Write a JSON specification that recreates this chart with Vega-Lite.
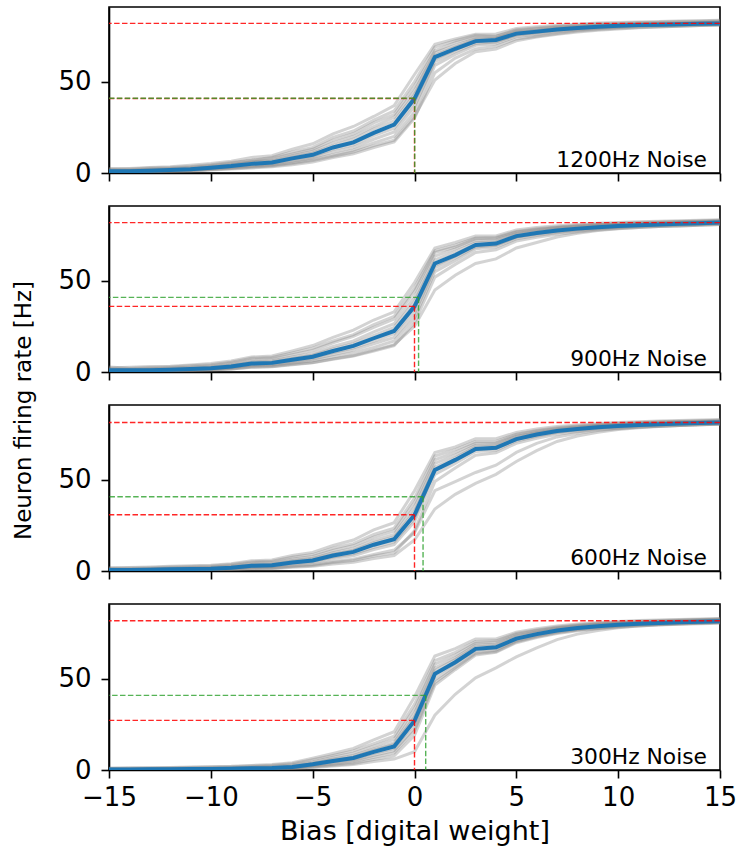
{
"$schema":"https://vega.github.io/schema/vega-lite/v6.json",
"padding":{"left":11,"top":6,"right":4,"bottom":4},
"background":"white",
"bounds":"flush",
"spacing":33,
"config":{"font":"DejaVu Sans","view":{"stroke":"black","strokeWidth":1.6},
"axis":{"grid":false,"domainColor":"black","domainWidth":1.6,"tickColor":"black","tickWidth":1.6,"tickSize":8,"labelColor":"black","labelFontSize":26,"labelFont":"DejaVu Sans","titleFont":"DejaVu Sans","titleColor":"black","titleFontSize":27,"titleFontWeight":"normal","labelFlush":false,"labelOverlap":false},
"axisY":{"labelPadding":10},"axisX":{"labelPadding":6}},
"datasets":{
"refs":[
{"p":1,"max":82.0,"half":41.0,"at0":40.8,"xh":0.01,"label":"1200Hz Noise"},
{"p":2,"max":81.9,"half":40.9,"at0":36.0,"xh":0.2,"label":"900Hz Noise"},
{"p":3,"max":81.4,"half":40.7,"at0":30.8,"xh":0.42,"label":"600Hz Noise"},
{"p":4,"max":81.8,"half":40.9,"at0":27.2,"xh":0.55,"label":"300Hz Noise"}],
"curves":[
{"p":1,"x":-15,"m":0.9,"a":2.5,"b":0.3,"c":1.2,"d":0.6,"e":1.8,"f":0.5,"g":1.0,"h":0.4,"i":2.0,"j":0.8},
{"p":1,"x":-14,"m":1.0,"a":2.2,"b":0.4,"c":1.4,"d":0.8,"e":1.6,"f":0.6,"g":1.1,"h":0.5,"i":2.5,"j":0.9},
{"p":1,"x":-13,"m":1.3,"a":2.8,"b":0.6,"c":1.6,"d":1.0,"e":2.2,"f":0.9,"g":1.5,"h":0.7,"i":3.0,"j":1.2},
{"p":1,"x":-12,"m":1.6,"a":3.0,"b":0.8,"c":2.0,"d":1.3,"e":2.4,"f":1.1,"g":1.8,"h":1.0,"i":3.4,"j":1.4},
{"p":1,"x":-11,"m":2.0,"a":3.6,"b":1.0,"c":2.6,"d":1.6,"e":3.0,"f":1.4,"g":2.2,"h":1.3,"i":4.2,"j":1.8},
{"p":1,"x":-10,"m":2.9,"a":4.5,"b":1.6,"c":3.5,"d":2.4,"e":4.0,"f":2.0,"g":3.2,"h":1.9,"i":5.2,"j":2.7},
{"p":1,"x":-9,"m":3.8,"a":5.8,"b":2.2,"c":4.6,"d":3.2,"e":5.2,"f":2.8,"g":4.2,"h":2.5,"i":6.5,"j":3.5},
{"p":1,"x":-8,"m":5.0,"a":7.0,"b":2.8,"c":6.2,"d":4.0,"e":6.8,"f":3.5,"g":5.6,"h":3.2,"i":8.5,"j":4.6},
{"p":1,"x":-7,"m":5.8,"a":8.5,"b":3.4,"c":6.8,"d":4.8,"e":8.0,"f":4.2,"g":6.4,"h":3.8,"i":9.5,"j":5.4},
{"p":1,"x":-6,"m":8.0,"a":11.5,"b":4.5,"c":9.6,"d":6.6,"e":10.5,"f":5.8,"g":8.8,"h":5.2,"i":13.0,"j":7.4},
{"p":1,"x":-5,"m":10.0,"a":14.0,"b":6.0,"c":12.0,"d":8.4,"e":13.0,"f":7.5,"g":11.0,"h":6.8,"i":16.0,"j":9.2},
{"p":1,"x":-4,"m":14.0,"a":19.5,"b":8.5,"c":16.5,"d":11.5,"e":18.0,"f":10.0,"g":15.0,"h":9.2,"i":21.5,"j":13.0},
{"p":1,"x":-3,"m":16.8,"a":23.0,"b":10.5,"c":20.0,"d":14.0,"e":21.5,"f":12.5,"g":18.5,"h":11.5,"i":25.5,"j":15.5},
{"p":1,"x":-2,"m":22.0,"a":29.0,"b":14.0,"c":25.5,"d":18.5,"e":27.5,"f":16.5,"g":24.0,"h":15.0,"i":31.0,"j":20.5},
{"p":1,"x":-1,"m":26.5,"a":34.0,"b":17.0,"c":30.5,"d":22.5,"e":32.0,"f":20.0,"g":28.5,"h":18.0,"i":37.0,"j":24.5},
{"p":1,"x":0,"m":40.8,"a":50.0,"b":30.0,"c":45.0,"d":36.5,"e":47.5,"f":33.5,"g":43.0,"h":31.0,"i":54.0,"j":39.0},
{"p":1,"x":1,"m":63.5,"a":69.0,"b":55.0,"c":66.0,"d":61.0,"e":67.0,"f":59.0,"g":64.5,"h":51.0,"i":70.5,"j":62.5},
{"p":1,"x":2,"m":68.1,"a":72.5,"b":63.0,"c":70.0,"d":66.5,"e":71.5,"f":65.0,"g":69.0,"h":60.0,"i":73.5,"j":67.5},
{"p":1,"x":3,"m":72.3,"a":75.5,"b":68.0,"c":73.8,"d":71.0,"e":74.5,"f":70.0,"g":73.0,"h":66.5,"i":76.0,"j":72.0},
{"p":1,"x":4,"m":72.9,"a":75.0,"b":69.5,"c":74.0,"d":71.8,"e":74.8,"f":70.8,"g":73.5,"h":68.0,"i":76.2,"j":72.5},
{"p":1,"x":5,"m":76.4,"a":78.5,"b":73.5,"c":77.5,"d":75.5,"e":77.8,"f":74.8,"g":76.8,"h":72.5,"i":79.2,"j":76.0},
{"p":1,"x":6,"m":77.5,"a":79.5,"b":75.0,"c":78.3,"d":76.8,"e":79.0,"f":76.0,"g":78.0,"h":74.5,"i":80.2,"j":77.2},
{"p":1,"x":7,"m":78.7,"a":80.5,"b":76.5,"c":79.5,"d":78.0,"e":80.0,"f":77.4,"g":79.1,"h":76.0,"i":81.0,"j":78.5},
{"p":1,"x":8,"m":79.5,"a":81.0,"b":77.8,"c":80.2,"d":79.0,"e":80.6,"f":78.4,"g":79.9,"h":77.3,"i":81.6,"j":79.3},
{"p":1,"x":9,"m":80.2,"a":81.8,"b":78.6,"c":80.8,"d":79.6,"e":81.3,"f":79.2,"g":80.5,"h":78.3,"i":82.2,"j":80.0},
{"p":1,"x":10,"m":80.7,"a":82.0,"b":79.3,"c":81.3,"d":80.2,"e":81.6,"f":79.8,"g":81.0,"h":79.0,"i":82.5,"j":80.6},
{"p":1,"x":11,"m":81.1,"a":82.5,"b":79.8,"c":81.6,"d":80.7,"e":81.9,"f":80.3,"g":81.4,"h":79.6,"i":82.8,"j":81.0},
{"p":1,"x":12,"m":81.3,"a":82.6,"b":80.2,"c":81.8,"d":81.0,"e":82.2,"f":80.6,"g":81.6,"h":80.0,"i":83.0,"j":81.2},
{"p":1,"x":13,"m":81.5,"a":83.0,"b":80.5,"c":82.0,"d":81.2,"e":82.4,"f":80.9,"g":81.8,"h":80.4,"i":83.3,"j":81.4},
{"p":1,"x":14,"m":81.8,"a":83.2,"b":80.8,"c":82.4,"d":81.5,"e":82.6,"f":81.2,"g":82.1,"h":80.8,"i":83.5,"j":81.7},
{"p":1,"x":15,"m":82.0,"a":83.5,"b":81.2,"c":82.6,"d":81.8,"e":82.9,"f":81.5,"g":82.3,"h":81.0,"i":83.8,"j":82.0},
{"p":2,"x":-15,"m":0.9,"a":2.8,"b":0.2,"c":1.3,"d":0.5,"e":1.8,"f":0.4,"g":1.0,"h":0.3,"i":2.2,"j":0.7},
{"p":2,"x":-14,"m":0.9,"a":2.0,"b":0.3,"c":1.2,"d":0.6,"e":1.5,"f":0.5,"g":1.0,"h":0.4,"i":2.6,"j":0.8},
{"p":2,"x":-13,"m":1.0,"a":2.4,"b":0.4,"c":1.4,"d":0.7,"e":1.8,"f":0.6,"g":1.2,"h":0.5,"i":3.0,"j":0.9},
{"p":2,"x":-12,"m":1.2,"a":2.8,"b":0.5,"c":1.6,"d":0.9,"e":2.2,"f":0.8,"g":1.4,"h":0.6,"i":3.2,"j":1.1},
{"p":2,"x":-11,"m":1.6,"a":3.4,"b":0.8,"c":2.1,"d":1.2,"e":2.6,"f":1.0,"g":1.8,"h":0.8,"i":3.8,"j":1.4},
{"p":2,"x":-10,"m":2.1,"a":4.0,"b":1.1,"c":2.7,"d":1.6,"e":3.3,"f":1.4,"g":2.4,"h":1.2,"i":4.6,"j":1.9},
{"p":2,"x":-9,"m":3.0,"a":5.4,"b":1.6,"c":3.8,"d":2.4,"e":4.6,"f":2.1,"g":3.4,"h":1.7,"i":6.0,"j":2.8},
{"p":2,"x":-8,"m":4.6,"a":7.5,"b":2.6,"c":5.6,"d":3.8,"e":6.6,"f":3.2,"g":5.0,"h":2.7,"i":8.2,"j":4.2},
{"p":2,"x":-7,"m":5.0,"a":8.0,"b":2.9,"c":6.2,"d":4.1,"e":7.2,"f":3.6,"g":5.6,"h":3.0,"i":8.8,"j":4.6},
{"p":2,"x":-6,"m":6.7,"a":10.5,"b":4.0,"c":8.2,"d":5.6,"e":9.5,"f":4.8,"g":7.4,"h":4.2,"i":11.6,"j":6.2},
{"p":2,"x":-5,"m":8.4,"a":13.0,"b":5.0,"c":10.2,"d":7.0,"e":11.8,"f":6.2,"g":9.2,"h":5.2,"i":14.5,"j":7.8},
{"p":2,"x":-4,"m":11.5,"a":17.0,"b":7.0,"c":14.0,"d":9.6,"e":16.0,"f":8.4,"g":12.6,"h":7.2,"i":19.0,"j":10.6},
{"p":2,"x":-3,"m":14.3,"a":20.5,"b":8.8,"c":17.0,"d":12.0,"e":19.5,"f":10.5,"g":15.5,"h":9.0,"i":23.0,"j":13.2},
{"p":2,"x":-2,"m":18.5,"a":26.0,"b":11.5,"c":22.0,"d":15.5,"e":24.5,"f":13.5,"g":20.0,"h":12.0,"i":28.5,"j":17.0},
{"p":2,"x":-1,"m":22.5,"a":30.5,"b":14.5,"c":26.5,"d":19.0,"e":29.0,"f":17.0,"g":24.5,"h":15.0,"i":33.0,"j":21.0},
{"p":2,"x":0,"m":36.0,"a":46.0,"b":27.0,"c":41.0,"d":32.0,"e":44.0,"f":29.5,"g":38.5,"h":25.0,"i":49.0,"j":34.5},
{"p":2,"x":1,"m":59.5,"a":66.5,"b":52.0,"c":63.5,"d":57.0,"e":65.5,"f":55.0,"g":61.5,"h":45.0,"i":68.0,"j":58.5},
{"p":2,"x":2,"m":64.1,"a":69.5,"b":59.0,"c":67.5,"d":62.5,"e":68.5,"f":61.0,"g":66.0,"h":53.0,"i":71.0,"j":63.5},
{"p":2,"x":3,"m":69.6,"a":73.5,"b":65.5,"c":72.0,"d":68.5,"e":73.0,"f":67.5,"g":70.8,"h":59.5,"i":74.5,"j":69.2},
{"p":2,"x":4,"m":70.4,"a":73.8,"b":67.0,"c":72.4,"d":69.5,"e":73.2,"f":68.5,"g":71.4,"h":62.0,"i":74.6,"j":70.0},
{"p":2,"x":5,"m":74.5,"a":77.0,"b":71.8,"c":76.0,"d":73.8,"e":76.6,"f":73.0,"g":75.2,"h":68.0,"i":77.8,"j":74.2},
{"p":2,"x":6,"m":76.2,"a":78.5,"b":73.8,"c":77.6,"d":75.5,"e":78.0,"f":74.8,"g":76.9,"h":71.0,"i":79.2,"j":76.0},
{"p":2,"x":7,"m":77.6,"a":79.5,"b":75.5,"c":78.8,"d":77.0,"e":79.2,"f":76.3,"g":78.2,"h":74.0,"i":80.2,"j":77.4},
{"p":2,"x":8,"m":78.6,"a":80.3,"b":76.8,"c":79.6,"d":78.0,"e":80.0,"f":77.4,"g":79.1,"h":76.0,"i":80.9,"j":78.4},
{"p":2,"x":9,"m":79.4,"a":81.0,"b":77.8,"c":80.3,"d":78.9,"e":80.7,"f":78.4,"g":79.9,"h":77.5,"i":81.5,"j":79.2},
{"p":2,"x":10,"m":80.0,"a":81.5,"b":78.6,"c":80.9,"d":79.5,"e":81.2,"f":79.1,"g":80.4,"h":78.5,"i":82.0,"j":79.9},
{"p":2,"x":11,"m":80.5,"a":81.9,"b":79.2,"c":81.3,"d":80.1,"e":81.6,"f":79.7,"g":80.9,"h":79.2,"i":82.3,"j":80.4},
{"p":2,"x":12,"m":80.9,"a":82.2,"b":79.7,"c":81.7,"d":80.5,"e":82.0,"f":80.1,"g":81.2,"h":79.7,"i":82.6,"j":80.8},
{"p":2,"x":13,"m":81.3,"a":82.5,"b":80.1,"c":82.0,"d":80.9,"e":82.3,"f":80.5,"g":81.6,"h":80.1,"i":82.9,"j":81.2},
{"p":2,"x":14,"m":81.6,"a":82.8,"b":80.4,"c":82.3,"d":81.2,"e":82.6,"f":80.9,"g":81.9,"h":80.5,"i":83.2,"j":81.5},
{"p":2,"x":15,"m":81.9,"a":83.2,"b":80.8,"c":82.6,"d":81.5,"e":82.9,"f":81.3,"g":82.2,"h":80.9,"i":83.5,"j":81.8},
{"p":3,"x":-15,"m":0.5,"a":1.8,"b":0.1,"c":0.7,"d":0.3,"e":1.2,"f":0.2,"g":0.6,"h":0.2,"i":1.5,"j":0.4},
{"p":3,"x":-14,"m":0.6,"a":1.6,"b":0.2,"c":0.8,"d":0.4,"e":1.1,"f":0.3,"g":0.6,"h":0.2,"i":1.9,"j":0.5},
{"p":3,"x":-13,"m":0.7,"a":1.8,"b":0.2,"c":0.9,"d":0.5,"e":1.3,"f":0.3,"g":0.8,"h":0.3,"i":2.2,"j":0.6},
{"p":3,"x":-12,"m":0.9,"a":2.2,"b":0.3,"c":1.2,"d":0.6,"e":1.6,"f":0.4,"g":1.0,"h":0.3,"i":2.6,"j":0.8},
{"p":3,"x":-11,"m":1.1,"a":2.5,"b":0.4,"c":1.4,"d":0.8,"e":1.9,"f":0.5,"g":1.2,"h":0.4,"i":2.9,"j":1.0},
{"p":3,"x":-10,"m":1.3,"a":2.8,"b":0.5,"c":1.7,"d":1.0,"e":2.2,"f":0.7,"g":1.5,"h":0.5,"i":3.2,"j":1.2},
{"p":3,"x":-9,"m":1.8,"a":3.6,"b":0.8,"c":2.3,"d":1.3,"e":2.9,"f":1.0,"g":2.0,"h":0.7,"i":4.0,"j":1.6},
{"p":3,"x":-8,"m":2.9,"a":5.0,"b":1.4,"c":3.6,"d":2.2,"e":4.3,"f":1.7,"g":3.2,"h":1.2,"i":5.6,"j":2.6},
{"p":3,"x":-7,"m":3.1,"a":5.4,"b":1.5,"c":3.9,"d":2.4,"e":4.6,"f":1.8,"g":3.4,"h":1.3,"i":6.0,"j":2.8},
{"p":3,"x":-6,"m":4.7,"a":7.6,"b":2.4,"c":5.8,"d":3.7,"e":6.6,"f":2.8,"g":5.1,"h":2.0,"i":8.5,"j":4.2},
{"p":3,"x":-5,"m":5.8,"a":9.0,"b":3.0,"c":7.0,"d":4.6,"e":8.0,"f":3.5,"g":6.3,"h":2.6,"i":10.2,"j":5.2},
{"p":3,"x":-4,"m":8.5,"a":12.5,"b":4.6,"c":10.0,"d":6.8,"e":11.2,"f":5.2,"g":9.2,"h":3.8,"i":14.0,"j":7.6},
{"p":3,"x":-3,"m":10.5,"a":15.0,"b":5.8,"c":12.4,"d":8.4,"e":13.8,"f":6.5,"g":11.3,"h":4.8,"i":17.0,"j":9.5},
{"p":3,"x":-2,"m":14.4,"a":20.0,"b":8.2,"c":16.8,"d":11.8,"e":18.5,"f":9.0,"g":15.5,"h":6.8,"i":22.5,"j":13.0},
{"p":3,"x":-1,"m":17.4,"a":23.5,"b":10.0,"c":20.0,"d":14.5,"e":22.0,"f":11.5,"g":18.6,"h":8.5,"i":26.5,"j":16.0},
{"p":3,"x":0,"m":30.7,"a":40.0,"b":22.0,"c":35.0,"d":27.0,"e":37.5,"f":21.0,"g":32.5,"h":17.0,"i":44.0,"j":29.0},
{"p":3,"x":1,"m":55.4,"a":63.0,"b":49.0,"c":59.0,"d":53.0,"e":61.0,"f":44.0,"g":57.0,"h":34.0,"i":65.0,"j":55.0},
{"p":3,"x":2,"m":60.9,"a":66.5,"b":56.5,"c":63.5,"d":59.0,"e":65.0,"f":49.0,"g":62.0,"h":42.0,"i":68.0,"j":60.5},
{"p":3,"x":3,"m":66.9,"a":71.0,"b":63.5,"c":69.0,"d":65.5,"e":70.0,"f":54.0,"g":68.0,"h":48.0,"i":72.5,"j":66.8},
{"p":3,"x":4,"m":67.5,"a":71.0,"b":64.8,"c":69.3,"d":66.2,"e":70.2,"f":58.0,"g":68.5,"h":53.0,"i":72.5,"j":67.2},
{"p":3,"x":5,"m":72.3,"a":75.0,"b":70.0,"c":73.8,"d":71.3,"e":74.5,"f":65.0,"g":73.0,"h":60.0,"i":76.0,"j":72.0},
{"p":3,"x":6,"m":74.8,"a":77.0,"b":72.8,"c":76.0,"d":73.9,"e":76.5,"f":70.0,"g":75.4,"h":66.0,"i":77.8,"j":74.6},
{"p":3,"x":7,"m":76.7,"a":78.5,"b":75.0,"c":77.6,"d":75.9,"e":78.0,"f":73.5,"g":77.2,"h":71.0,"i":79.2,"j":76.5},
{"p":3,"x":8,"m":77.9,"a":79.5,"b":76.4,"c":78.7,"d":77.2,"e":79.1,"f":75.5,"g":78.3,"h":74.0,"i":80.1,"j":77.7},
{"p":3,"x":9,"m":78.8,"a":80.3,"b":77.5,"c":79.6,"d":78.2,"e":79.9,"f":77.0,"g":79.2,"h":76.0,"i":80.8,"j":78.6},
{"p":3,"x":10,"m":79.5,"a":80.9,"b":78.3,"c":80.2,"d":78.9,"e":80.6,"f":78.0,"g":79.9,"h":77.5,"i":81.4,"j":79.3},
{"p":3,"x":11,"m":80.1,"a":81.4,"b":79.0,"c":80.8,"d":79.6,"e":81.1,"f":78.8,"g":80.4,"h":78.5,"i":81.8,"j":79.9},
{"p":3,"x":12,"m":80.5,"a":81.8,"b":79.4,"c":81.2,"d":80.0,"e":81.5,"f":79.3,"g":80.8,"h":79.2,"i":82.2,"j":80.3},
{"p":3,"x":13,"m":80.9,"a":82.1,"b":79.8,"c":81.5,"d":80.4,"e":81.8,"f":79.8,"g":81.2,"h":79.7,"i":82.5,"j":80.7},
{"p":3,"x":14,"m":81.2,"a":82.4,"b":80.2,"c":81.8,"d":80.8,"e":82.1,"f":80.2,"g":81.5,"h":80.2,"i":82.8,"j":81.0},
{"p":3,"x":15,"m":81.4,"a":82.7,"b":80.5,"c":82.1,"d":81.1,"e":82.4,"f":80.5,"g":81.8,"h":80.6,"i":83.0,"j":81.3},
{"p":4,"x":-15,"m":0.3,"a":1.0,"b":0.0,"c":0.4,"d":0.2,"e":0.7,"f":0.1,"g":0.3,"h":0.1,"i":0.9,"j":0.2},
{"p":4,"x":-14,"m":0.3,"a":0.9,"b":0.1,"c":0.4,"d":0.2,"e":0.6,"f":0.2,"g":0.3,"h":0.1,"i":1.2,"j":0.3},
{"p":4,"x":-13,"m":0.4,"a":1.1,"b":0.1,"c":0.5,"d":0.2,"e":0.8,"f":0.2,"g":0.4,"h":0.1,"i":1.3,"j":0.3},
{"p":4,"x":-12,"m":0.4,"a":1.2,"b":0.1,"c":0.6,"d":0.3,"e":0.8,"f":0.2,"g":0.5,"h":0.2,"i":1.4,"j":0.4},
{"p":4,"x":-11,"m":0.5,"a":1.4,"b":0.2,"c":0.7,"d":0.3,"e":1.0,"f":0.3,"g":0.6,"h":0.2,"i":1.6,"j":0.4},
{"p":4,"x":-10,"m":0.6,"a":1.6,"b":0.2,"c":0.8,"d":0.4,"e":1.2,"f":0.3,"g":0.7,"h":0.3,"i":1.8,"j":0.5},
{"p":4,"x":-9,"m":0.7,"a":1.8,"b":0.3,"c":0.9,"d":0.5,"e":1.3,"f":0.4,"g":0.8,"h":0.3,"i":2.0,"j":0.6},
{"p":4,"x":-8,"m":0.9,"a":2.2,"b":0.4,"c":1.2,"d":0.6,"e":1.7,"f":0.5,"g":1.0,"h":0.4,"i":2.5,"j":0.8},
{"p":4,"x":-7,"m":1.1,"a":2.6,"b":0.5,"c":1.4,"d":0.8,"e":2.0,"f":0.6,"g":1.2,"h":0.5,"i":3.0,"j":1.0},
{"p":4,"x":-6,"m":1.6,"a":3.4,"b":0.7,"c":2.1,"d":1.1,"e":2.8,"f":0.9,"g":1.8,"h":0.7,"i":4.0,"j":1.4},
{"p":4,"x":-5,"m":3.1,"a":5.6,"b":1.6,"c":3.8,"d":2.4,"e":4.6,"f":2.0,"g":3.4,"h":1.4,"i":6.4,"j":2.8},
{"p":4,"x":-4,"m":4.9,"a":8.0,"b":2.6,"c":6.0,"d":3.8,"e":7.0,"f":3.2,"g":5.4,"h":2.2,"i":9.0,"j":4.5},
{"p":4,"x":-3,"m":6.6,"a":10.5,"b":3.6,"c":8.0,"d":5.2,"e":9.2,"f":4.5,"g":7.2,"h":3.0,"i":11.8,"j":6.0},
{"p":4,"x":-2,"m":9.9,"a":14.5,"b":5.8,"c":11.6,"d":8.0,"e":13.0,"f":7.0,"g":10.8,"h":4.6,"i":16.5,"j":9.2},
{"p":4,"x":-1,"m":12.9,"a":18.5,"b":7.8,"c":15.0,"d":10.6,"e":16.8,"f":9.4,"g":14.0,"h":6.0,"i":21.0,"j":12.0},
{"p":4,"x":0,"m":27.0,"a":36.0,"b":19.0,"c":31.0,"d":23.0,"e":33.5,"f":21.5,"g":29.0,"h":10.0,"i":40.0,"j":25.5},
{"p":4,"x":1,"m":52.7,"a":60.0,"b":46.5,"c":56.0,"d":49.5,"e":58.0,"f":48.0,"g":54.5,"h":30.0,"i":62.5,"j":51.5},
{"p":4,"x":2,"m":59.1,"a":64.5,"b":55.0,"c":61.5,"d":57.0,"e":63.0,"f":56.0,"g":60.5,"h":41.5,"i":66.5,"j":58.5},
{"p":4,"x":3,"m":66.4,"a":70.5,"b":63.0,"c":68.5,"d":64.5,"e":69.5,"f":63.8,"g":67.5,"h":50.5,"i":71.8,"j":65.8},
{"p":4,"x":4,"m":67.3,"a":70.8,"b":64.5,"c":69.0,"d":65.8,"e":70.0,"f":65.0,"g":68.2,"h":56.0,"i":71.8,"j":66.8},
{"p":4,"x":5,"m":72.0,"a":74.8,"b":69.8,"c":73.5,"d":70.8,"e":74.2,"f":70.3,"g":72.8,"h":62.0,"i":75.5,"j":71.6},
{"p":4,"x":6,"m":74.5,"a":76.8,"b":72.6,"c":75.8,"d":73.4,"e":76.3,"f":73.0,"g":75.2,"h":67.0,"i":77.5,"j":74.2},
{"p":4,"x":7,"m":76.5,"a":78.4,"b":74.8,"c":77.6,"d":75.6,"e":78.0,"f":75.2,"g":77.1,"h":71.5,"i":78.9,"j":76.3},
{"p":4,"x":8,"m":77.8,"a":79.5,"b":76.3,"c":78.8,"d":77.0,"e":79.2,"f":76.7,"g":78.4,"h":74.5,"i":80.0,"j":77.6},
{"p":4,"x":9,"m":78.8,"a":80.4,"b":77.4,"c":79.7,"d":78.0,"e":80.0,"f":77.7,"g":79.3,"h":76.5,"i":80.8,"j":78.6},
{"p":4,"x":10,"m":79.6,"a":81.0,"b":78.3,"c":80.4,"d":78.9,"e":80.7,"f":78.6,"g":80.0,"h":78.0,"i":81.4,"j":79.4},
{"p":4,"x":11,"m":80.2,"a":81.5,"b":79.0,"c":80.9,"d":79.6,"e":81.2,"f":79.3,"g":80.6,"h":79.0,"i":81.9,"j":80.0},
{"p":4,"x":12,"m":80.6,"a":81.9,"b":79.5,"c":81.3,"d":80.0,"e":81.6,"f":79.8,"g":81.0,"h":79.6,"i":82.2,"j":80.4},
{"p":4,"x":13,"m":81.0,"a":82.2,"b":79.9,"c":81.7,"d":80.4,"e":82.0,"f":80.2,"g":81.4,"h":80.1,"i":82.5,"j":80.8},
{"p":4,"x":14,"m":81.3,"a":82.5,"b":80.2,"c":82.0,"d":80.8,"e":82.3,"f":80.5,"g":81.7,"h":80.5,"i":82.8,"j":81.1},
{"p":4,"x":15,"m":81.6,"a":82.8,"b":80.5,"c":82.3,"d":81.1,"e":82.6,"f":80.8,"g":82.0,"h":80.8,"i":83.0,"j":81.4}
]},
"vconcat":[
{"width":611,"height":166,"layer":[
{"data":{"name":"curves"},"transform":[{"filter":"datum.p==1"},{"fold":["a","b","c","d","e","f","g","h","i","j"],"as":["run","val"]}],
"mark":{"type":"line","color":"#808080","opacity":0.35,"strokeWidth":3,"clip":true},
"encoding":{"x":{"field":"x","type":"quantitative","scale":{"domain":[-15,15],"nice":false},"axis":{"values":[-15,-10,-5,0,5,10,15],"labels":false,"title":null}},
"y":{"field":"val","type":"quantitative","scale":{"domain":[0,91],"nice":false},"axis":{"values":[0,50],"title":null}},
"detail":{"field":"run","type":"nominal"}}},
{"data":{"name":"curves"},"transform":[{"filter":"datum.p==1"}],"mark":{"type":"line","color":"#1f77b4","strokeWidth":4,"clip":true},
"encoding":{"x":{"field":"x","type":"quantitative","axis":{"values":[-15,-10,-5,0,5,10,15],"labels":false,"title":null}},"y":{"field":"m","type":"quantitative","axis":{"values":[0,50],"title":null}}}},
{"data":{"name":"refs"},"transform":[{"filter":"datum.p==1"}],"layer":[
{"mark":{"type":"rule","color":"#ff0000","strokeDash":[5.5,2.4],"strokeWidth":1.4,"opacity":0.85},"encoding":{"y":{"field":"max","type":"quantitative","axis":{"values":[0,50],"title":null}}}},
{"mark":{"type":"rule","color":"#ff0000","strokeDash":[5.5,2.4],"strokeWidth":1.4,"opacity":0.85},"encoding":{"x":{"datum":0,"type":"quantitative","axis":{"values":[-15,-10,-5,0,5,10,15],"labels":false,"title":null}},"x2":{"datum":-15},"y":{"field":"at0","type":"quantitative","axis":{"values":[0,50],"title":null}}}},
{"mark":{"type":"rule","color":"#ff0000","strokeDash":[5.5,2.4],"strokeWidth":1.4,"opacity":0.85},"encoding":{"x":{"datum":0,"type":"quantitative","axis":{"values":[-15,-10,-5,0,5,10,15],"labels":false,"title":null}},"y":{"field":"at0","type":"quantitative","axis":{"values":[0,50],"title":null}},"y2":{"datum":0}}},
{"mark":{"type":"rule","color":"#2ca02c","strokeDash":[5.5,2.4],"strokeWidth":1.4,"opacity":0.8},"encoding":{"x":{"field":"xh","type":"quantitative","axis":{"values":[-15,-10,-5,0,5,10,15],"labels":false,"title":null}},"x2":{"datum":-15},"y":{"field":"half","type":"quantitative","axis":{"values":[0,50],"title":null}}}},
{"mark":{"type":"rule","color":"#2ca02c","strokeDash":[5.5,2.4],"strokeWidth":1.4,"opacity":0.8},"encoding":{"x":{"field":"xh","type":"quantitative","axis":{"values":[-15,-10,-5,0,5,10,15],"labels":false,"title":null}},"y":{"field":"half","type":"quantitative","axis":{"values":[0,50],"title":null}},"y2":{"datum":0}}},
{"mark":{"type":"text","align":"right","baseline":"alphabetic","dx":-13,"dy":-6.5,"fontSize":21.8,"color":"black"},"encoding":{"x":{"datum":15,"type":"quantitative","axis":{"values":[-15,-10,-5,0,5,10,15],"labels":false,"title":null}},"y":{"datum":0,"type":"quantitative","axis":{"values":[0,50],"title":null}},"text":{"field":"label","type":"nominal"}}}
]}]},
{"width":611,"height":166,"layer":[
{"data":{"name":"curves"},"transform":[{"filter":"datum.p==2"},{"fold":["a","b","c","d","e","f","g","h","i","j"],"as":["run","val"]}],
"mark":{"type":"line","color":"#808080","opacity":0.35,"strokeWidth":3,"clip":true},
"encoding":{"x":{"field":"x","type":"quantitative","scale":{"domain":[-15,15],"nice":false},"axis":{"values":[-15,-10,-5,0,5,10,15],"labels":false,"title":null}},
"y":{"field":"val","type":"quantitative","scale":{"domain":[0,91],"nice":false},"axis":{"values":[0,50],"title":"Neuron firing rate [Hz]","titleX":-74,"titleY":204,"titleFontSize":23}},
"detail":{"field":"run","type":"nominal"}}},
{"data":{"name":"curves"},"transform":[{"filter":"datum.p==2"}],"mark":{"type":"line","color":"#1f77b4","strokeWidth":4,"clip":true},
"encoding":{"x":{"field":"x","type":"quantitative","axis":{"values":[-15,-10,-5,0,5,10,15],"labels":false,"title":null}},"y":{"field":"m","type":"quantitative","axis":{"values":[0,50],"title":"Neuron firing rate [Hz]","titleX":-74,"titleY":204,"titleFontSize":23}}}},
{"data":{"name":"refs"},"transform":[{"filter":"datum.p==2"}],"layer":[
{"mark":{"type":"rule","color":"#ff0000","strokeDash":[5.5,2.4],"strokeWidth":1.4,"opacity":0.85},"encoding":{"y":{"field":"max","type":"quantitative","axis":{"values":[0,50],"title":"Neuron firing rate [Hz]","titleX":-74,"titleY":204,"titleFontSize":23}}}},
{"mark":{"type":"rule","color":"#ff0000","strokeDash":[5.5,2.4],"strokeWidth":1.4,"opacity":0.85},"encoding":{"x":{"datum":0,"type":"quantitative","axis":{"values":[-15,-10,-5,0,5,10,15],"labels":false,"title":null}},"x2":{"datum":-15},"y":{"field":"at0","type":"quantitative","axis":{"values":[0,50],"title":"Neuron firing rate [Hz]","titleX":-74,"titleY":204,"titleFontSize":23}}}},
{"mark":{"type":"rule","color":"#ff0000","strokeDash":[5.5,2.4],"strokeWidth":1.4,"opacity":0.85},"encoding":{"x":{"datum":0,"type":"quantitative","axis":{"values":[-15,-10,-5,0,5,10,15],"labels":false,"title":null}},"y":{"field":"at0","type":"quantitative","axis":{"values":[0,50],"title":"Neuron firing rate [Hz]","titleX":-74,"titleY":204,"titleFontSize":23}},"y2":{"datum":0}}},
{"mark":{"type":"rule","color":"#2ca02c","strokeDash":[5.5,2.4],"strokeWidth":1.4,"opacity":0.8},"encoding":{"x":{"field":"xh","type":"quantitative","axis":{"values":[-15,-10,-5,0,5,10,15],"labels":false,"title":null}},"x2":{"datum":-15},"y":{"field":"half","type":"quantitative","axis":{"values":[0,50],"title":"Neuron firing rate [Hz]","titleX":-74,"titleY":204,"titleFontSize":23}}}},
{"mark":{"type":"rule","color":"#2ca02c","strokeDash":[5.5,2.4],"strokeWidth":1.4,"opacity":0.8},"encoding":{"x":{"field":"xh","type":"quantitative","axis":{"values":[-15,-10,-5,0,5,10,15],"labels":false,"title":null}},"y":{"field":"half","type":"quantitative","axis":{"values":[0,50],"title":"Neuron firing rate [Hz]","titleX":-74,"titleY":204,"titleFontSize":23}},"y2":{"datum":0}}},
{"mark":{"type":"text","align":"right","baseline":"alphabetic","dx":-13,"dy":-6.5,"fontSize":21.8,"color":"black"},"encoding":{"x":{"datum":15,"type":"quantitative","axis":{"values":[-15,-10,-5,0,5,10,15],"labels":false,"title":null}},"y":{"datum":0,"type":"quantitative","axis":{"values":[0,50],"title":"Neuron firing rate [Hz]","titleX":-74,"titleY":204,"titleFontSize":23}},"text":{"field":"label","type":"nominal"}}}
]}]},
{"width":611,"height":166,"layer":[
{"data":{"name":"curves"},"transform":[{"filter":"datum.p==3"},{"fold":["a","b","c","d","e","f","g","h","i","j"],"as":["run","val"]}],
"mark":{"type":"line","color":"#808080","opacity":0.35,"strokeWidth":3,"clip":true},
"encoding":{"x":{"field":"x","type":"quantitative","scale":{"domain":[-15,15],"nice":false},"axis":{"values":[-15,-10,-5,0,5,10,15],"labels":false,"title":null}},
"y":{"field":"val","type":"quantitative","scale":{"domain":[0,91],"nice":false},"axis":{"values":[0,50],"title":null}},
"detail":{"field":"run","type":"nominal"}}},
{"data":{"name":"curves"},"transform":[{"filter":"datum.p==3"}],"mark":{"type":"line","color":"#1f77b4","strokeWidth":4,"clip":true},
"encoding":{"x":{"field":"x","type":"quantitative","axis":{"values":[-15,-10,-5,0,5,10,15],"labels":false,"title":null}},"y":{"field":"m","type":"quantitative","axis":{"values":[0,50],"title":null}}}},
{"data":{"name":"refs"},"transform":[{"filter":"datum.p==3"}],"layer":[
{"mark":{"type":"rule","color":"#ff0000","strokeDash":[5.5,2.4],"strokeWidth":1.4,"opacity":0.85},"encoding":{"y":{"field":"max","type":"quantitative","axis":{"values":[0,50],"title":null}}}},
{"mark":{"type":"rule","color":"#ff0000","strokeDash":[5.5,2.4],"strokeWidth":1.4,"opacity":0.85},"encoding":{"x":{"datum":0,"type":"quantitative","axis":{"values":[-15,-10,-5,0,5,10,15],"labels":false,"title":null}},"x2":{"datum":-15},"y":{"field":"at0","type":"quantitative","axis":{"values":[0,50],"title":null}}}},
{"mark":{"type":"rule","color":"#ff0000","strokeDash":[5.5,2.4],"strokeWidth":1.4,"opacity":0.85},"encoding":{"x":{"datum":0,"type":"quantitative","axis":{"values":[-15,-10,-5,0,5,10,15],"labels":false,"title":null}},"y":{"field":"at0","type":"quantitative","axis":{"values":[0,50],"title":null}},"y2":{"datum":0}}},
{"mark":{"type":"rule","color":"#2ca02c","strokeDash":[5.5,2.4],"strokeWidth":1.4,"opacity":0.8},"encoding":{"x":{"field":"xh","type":"quantitative","axis":{"values":[-15,-10,-5,0,5,10,15],"labels":false,"title":null}},"x2":{"datum":-15},"y":{"field":"half","type":"quantitative","axis":{"values":[0,50],"title":null}}}},
{"mark":{"type":"rule","color":"#2ca02c","strokeDash":[5.5,2.4],"strokeWidth":1.4,"opacity":0.8},"encoding":{"x":{"field":"xh","type":"quantitative","axis":{"values":[-15,-10,-5,0,5,10,15],"labels":false,"title":null}},"y":{"field":"half","type":"quantitative","axis":{"values":[0,50],"title":null}},"y2":{"datum":0}}},
{"mark":{"type":"text","align":"right","baseline":"alphabetic","dx":-13,"dy":-6.5,"fontSize":21.8,"color":"black"},"encoding":{"x":{"datum":15,"type":"quantitative","axis":{"values":[-15,-10,-5,0,5,10,15],"labels":false,"title":null}},"y":{"datum":0,"type":"quantitative","axis":{"values":[0,50],"title":null}},"text":{"field":"label","type":"nominal"}}}
]}]},
{"width":611,"height":166,"layer":[
{"data":{"name":"curves"},"transform":[{"filter":"datum.p==4"},{"fold":["a","b","c","d","e","f","g","h","i","j"],"as":["run","val"]}],
"mark":{"type":"line","color":"#808080","opacity":0.35,"strokeWidth":3,"clip":true},
"encoding":{"x":{"field":"x","type":"quantitative","scale":{"domain":[-15,15],"nice":false},"axis":{"values":[-15,-10,-5,0,5,10,15],"title":"Bias [digital weight]","titlePadding":8}},
"y":{"field":"val","type":"quantitative","scale":{"domain":[0,91],"nice":false},"axis":{"values":[0,50],"title":null}},
"detail":{"field":"run","type":"nominal"}}},
{"data":{"name":"curves"},"transform":[{"filter":"datum.p==4"}],"mark":{"type":"line","color":"#1f77b4","strokeWidth":4,"clip":true},
"encoding":{"x":{"field":"x","type":"quantitative","axis":{"values":[-15,-10,-5,0,5,10,15],"title":"Bias [digital weight]","titlePadding":8}},"y":{"field":"m","type":"quantitative","axis":{"values":[0,50],"title":null}}}},
{"data":{"name":"refs"},"transform":[{"filter":"datum.p==4"}],"layer":[
{"mark":{"type":"rule","color":"#ff0000","strokeDash":[5.5,2.4],"strokeWidth":1.4,"opacity":0.85},"encoding":{"y":{"field":"max","type":"quantitative","axis":{"values":[0,50],"title":null}}}},
{"mark":{"type":"rule","color":"#ff0000","strokeDash":[5.5,2.4],"strokeWidth":1.4,"opacity":0.85},"encoding":{"x":{"datum":0,"type":"quantitative","axis":{"values":[-15,-10,-5,0,5,10,15],"title":"Bias [digital weight]","titlePadding":8}},"x2":{"datum":-15},"y":{"field":"at0","type":"quantitative","axis":{"values":[0,50],"title":null}}}},
{"mark":{"type":"rule","color":"#ff0000","strokeDash":[5.5,2.4],"strokeWidth":1.4,"opacity":0.85},"encoding":{"x":{"datum":0,"type":"quantitative","axis":{"values":[-15,-10,-5,0,5,10,15],"title":"Bias [digital weight]","titlePadding":8}},"y":{"field":"at0","type":"quantitative","axis":{"values":[0,50],"title":null}},"y2":{"datum":0}}},
{"mark":{"type":"rule","color":"#2ca02c","strokeDash":[5.5,2.4],"strokeWidth":1.4,"opacity":0.8},"encoding":{"x":{"field":"xh","type":"quantitative","axis":{"values":[-15,-10,-5,0,5,10,15],"title":"Bias [digital weight]","titlePadding":8}},"x2":{"datum":-15},"y":{"field":"half","type":"quantitative","axis":{"values":[0,50],"title":null}}}},
{"mark":{"type":"rule","color":"#2ca02c","strokeDash":[5.5,2.4],"strokeWidth":1.4,"opacity":0.8},"encoding":{"x":{"field":"xh","type":"quantitative","axis":{"values":[-15,-10,-5,0,5,10,15],"title":"Bias [digital weight]","titlePadding":8}},"y":{"field":"half","type":"quantitative","axis":{"values":[0,50],"title":null}},"y2":{"datum":0}}},
{"mark":{"type":"text","align":"right","baseline":"alphabetic","dx":-13,"dy":-6.5,"fontSize":21.8,"color":"black"},"encoding":{"x":{"datum":15,"type":"quantitative","axis":{"values":[-15,-10,-5,0,5,10,15],"title":"Bias [digital weight]","titlePadding":8}},"y":{"datum":0,"type":"quantitative","axis":{"values":[0,50],"title":null}},"text":{"field":"label","type":"nominal"}}}
]}]}
]
}
